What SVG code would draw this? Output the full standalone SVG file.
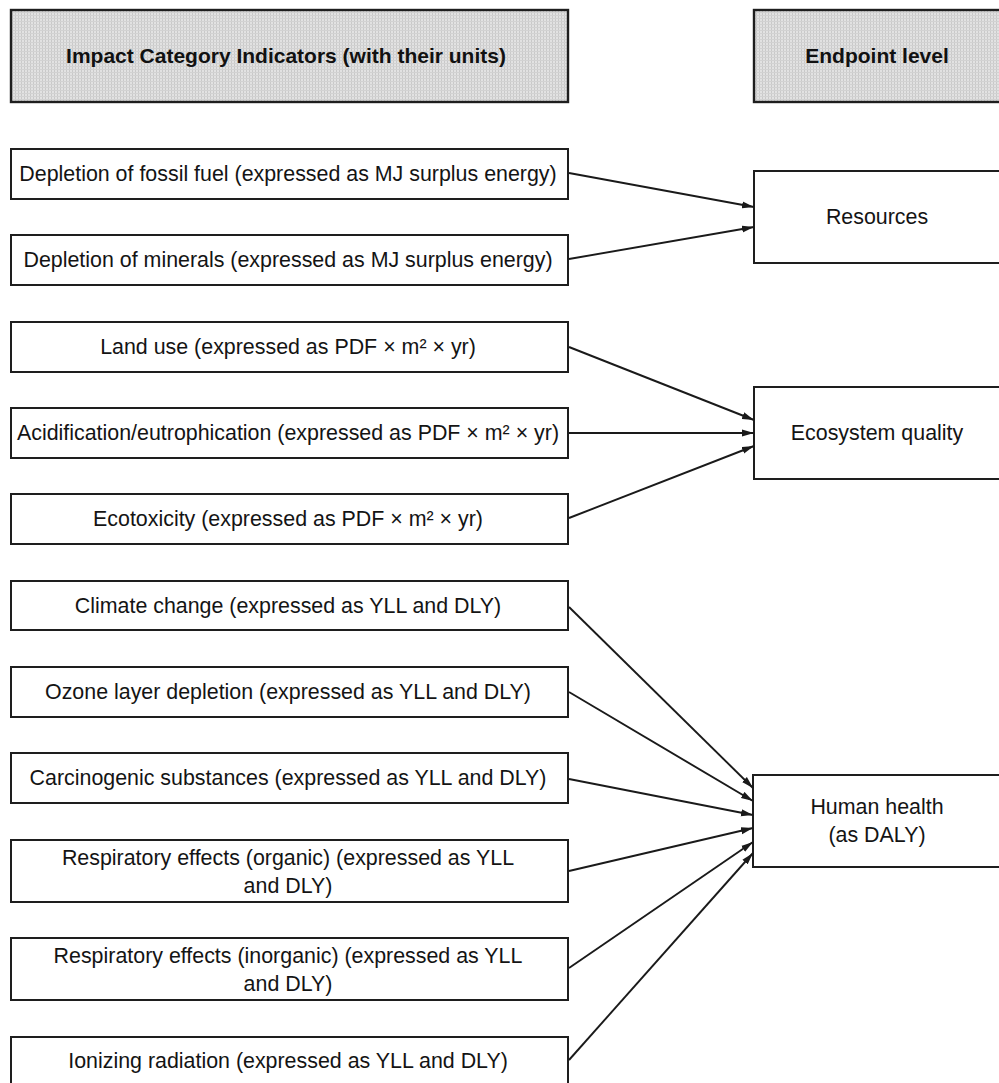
<svg xmlns="http://www.w3.org/2000/svg" width="999" height="1083" viewBox="0 0 999 1083">
  <style>
    .box { fill: #ffffff; stroke: #1e1e1e; stroke-width: 2; }
    .head { fill: url(#screen); stroke: #1e1e1e; stroke-width: 2.4; }
    .lbl { font-family: "Liberation Sans", Arial, sans-serif; font-size: 21.4px; fill: #141414; text-anchor: middle; }
    .hlbl { font-family: "Liberation Sans", Arial, sans-serif; font-size: 21px; font-weight: bold; fill: #111111; text-anchor: middle; }
    .edge { fill: none; stroke: #1a1a1a; stroke-width: 1.9; marker-end: url(#arrow); }
  </style>
  <defs>
    <!-- fine halftone screen used for the column headers -->
    <pattern id="screen" width="3" height="3" patternUnits="userSpaceOnUse">
      <rect width="3" height="3" fill="#e2e2e2"/>
      <rect x="0" y="0" width="1" height="3" fill="#c9c9c9"/>
      <rect x="0" y="0" width="3" height="1" fill="#d2d2d2"/>
    </pattern>
    <marker id="arrow" viewBox="0 0 12 8" refX="12" refY="4" markerWidth="12" markerHeight="8" markerUnits="userSpaceOnUse" orient="auto">
      <path d="M0,0.5 L12,4 L0,7.5 z" fill="#1a1a1a"/>
    </marker>
  </defs>

  <rect width="999" height="1083" fill="#ffffff"/>

  <!-- column headers -->
  <g id="header-indicators">
    <rect class="head" x="11" y="10" width="557" height="92"/>
    <text class="hlbl" x="286" y="63">Impact Category Indicators (with their units)</text>
  </g>
  <g id="header-endpoint">
    <rect class="head" x="754" y="10" width="248" height="92"/>
    <text class="hlbl" x="877" y="63">Endpoint level</text>
  </g>

  <!-- impact category indicators -->
  <g id="fossil-fuel">
    <rect class="box" x="11" y="149" width="557" height="50"/>
    <text class="lbl" x="288" y="181">Depletion of fossil fuel (expressed as MJ surplus energy)</text>
  </g>
  <g id="minerals">
    <rect class="box" x="11" y="235" width="557" height="50"/>
    <text class="lbl" x="288" y="267">Depletion of minerals (expressed as MJ surplus energy)</text>
  </g>
  <g id="land-use">
    <rect class="box" x="11" y="322" width="557" height="50"/>
    <text class="lbl" x="288" y="354">Land use (expressed as PDF × m² × yr)</text>
  </g>
  <g id="acidification">
    <rect class="box" x="11" y="408" width="557" height="50"/>
    <text class="lbl" x="288" y="440">Acidification/eutrophication (expressed as PDF × m² × yr)</text>
  </g>
  <g id="ecotoxicity">
    <rect class="box" x="11" y="494" width="557" height="50"/>
    <text class="lbl" x="288" y="526">Ecotoxicity (expressed as PDF × m² × yr)</text>
  </g>
  <g id="climate-change">
    <rect class="box" x="11" y="581" width="557" height="49"/>
    <text class="lbl" x="288" y="613">Climate change (expressed as YLL and DLY)</text>
  </g>
  <g id="ozone">
    <rect class="box" x="11" y="667" width="557" height="50"/>
    <text class="lbl" x="288" y="699">Ozone layer depletion (expressed as YLL and DLY)</text>
  </g>
  <g id="carcinogenic">
    <rect class="box" x="11" y="753" width="557" height="50"/>
    <text class="lbl" x="288" y="785">Carcinogenic substances (expressed as YLL and DLY)</text>
  </g>
  <g id="resp-organic">
    <rect class="box" x="11" y="840" width="557" height="62"/>
    <text class="lbl" x="288" y="865">Respiratory effects (organic) (expressed as YLL</text>
    <text class="lbl" x="288" y="893">and DLY)</text>
  </g>
  <g id="resp-inorganic">
    <rect class="box" x="11" y="938" width="557" height="62"/>
    <text class="lbl" x="288" y="963">Respiratory effects (inorganic) (expressed as YLL</text>
    <text class="lbl" x="288" y="991">and DLY)</text>
  </g>
  <g id="ionizing">
    <rect class="box" x="11" y="1037" width="557" height="50"/>
    <text class="lbl" x="288" y="1068">Ionizing radiation (expressed as YLL and DLY)</text>
  </g>

  <!-- endpoints -->
  <g id="resources">
    <rect class="box" x="754" y="171" width="248" height="92"/>
    <text class="lbl" x="877" y="224">Resources</text>
  </g>
  <g id="ecosystem-quality">
    <rect class="box" x="754" y="387" width="248" height="92"/>
    <text class="lbl" x="877" y="440">Ecosystem quality</text>
  </g>
  <g id="human-health">
    <rect class="box" x="753" y="775" width="249" height="92"/>
    <text class="lbl" x="877" y="814">Human health</text>
    <text class="lbl" x="877" y="842">(as DALY)</text>
  </g>

  <!-- connectors -->
  <g id="connectors">
    <line class="edge" x1="569" y1="173" x2="754" y2="207"/>
    <line class="edge" x1="569" y1="259" x2="754" y2="227"/>
    <line class="edge" x1="569" y1="347" x2="754" y2="420"/>
    <line class="edge" x1="569" y1="433" x2="754" y2="433"/>
    <line class="edge" x1="569" y1="518" x2="754" y2="446"/>
    <line class="edge" x1="569" y1="607" x2="753" y2="788"/>
    <line class="edge" x1="569" y1="692" x2="753" y2="801"/>
    <line class="edge" x1="569" y1="779" x2="753" y2="815"/>
    <line class="edge" x1="569" y1="871" x2="753" y2="828"/>
    <line class="edge" x1="569" y1="968" x2="753" y2="842"/>
    <line class="edge" x1="569" y1="1060" x2="753" y2="853"/>
  </g>
</svg>
